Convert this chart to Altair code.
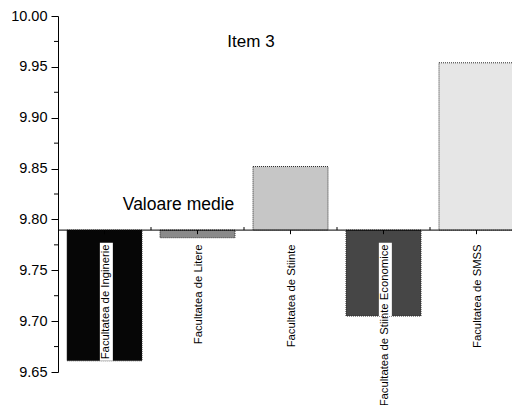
import altair as alt
import pandas as pd

faculties = [
    "Facultatea de Inginerie",
    "Facultatea de Litere",
    "Facultatea de Stiinte",
    "Facultatea de Stiinte Economice",
    "Facultatea  de SMSS",
]
values = [9.661, 9.782, 9.852, 9.705, 9.954]
mean_value = 9.7895
bar_colors = ["#060606", "#8a8a8a", "#c6c6c6", "#464646", "#e6e6e6"]
label_box = [True, False, False, True, False]
y_major = [9.65, 9.70, 9.75, 9.80, 9.85, 9.90, 9.95, 10.00]
y_minor = [9.675, 9.725, 9.775, 9.825, 9.875, 9.925, 9.975]
title_text = ["Item 3"]
mean_text = ["Valoare medie"]

df = pd.DataFrame({"idx": list(range(len(faculties))), "faculty": faculties,
                   "value": values, "box": label_box})

FONT = "Liberation Sans"
xscale = alt.Scale(domain=[-0.5, 4.3817], nice=False, zero=False, padding=0)
yscale = alt.Scale(domain=[9.65, 10.0], nice=False, zero=False, padding=0)

yaxis = alt.Axis(values=y_major, format=".2f", labelFontSize=14.5, labelFont=FONT,
                 labelColor="black", tickSize=7, tickColor="black", domainColor="black",
                 grid=False, title=None, labelPadding=4, tickWidth=1, domainWidth=1)

base = alt.Chart(df).transform_calculate(
    mean=f"{mean_value}",
    tick_lo=f"{mean_value} - 0.004",
    tick_hi=f"{mean_value} + 0.003",
    label_top="9.7755",
    box_top="9.777",
    xb="datum.idx + 0.02",
    b="datum.idx + 0.5",
)

bars = base.mark_bar(size=75, stroke="#2a2a2a", strokeWidth=1,
                     strokeDash=[1, 1]).encode(
    x=alt.X("idx:Q", scale=xscale, axis=None),
    y=alt.Y("value:Q", scale=yscale, axis=yaxis),
    y2=alt.Y2("mean:Q"),
    color=alt.Color("faculty:N", scale=alt.Scale(domain=faculties, range=bar_colors),
                    legend=None),
)

boxes = base.transform_filter("datum.box").mark_bar(size=13, color="white").encode(
    x=alt.X("xb:Q", scale=xscale),
    y=alt.Y("box_top:Q", scale=yscale),
    y2=alt.Y2("value:Q"),
)

labels = base.mark_text(angle=270, align="right", baseline="middle",
                        fontSize=11.3, font=FONT, dy=1.5).encode(
    x=alt.X("idx:Q", scale=xscale),
    y=alt.Y("label_top:Q", scale=yscale),
    text="faculty:N",
    color=alt.value("#000000"),
)

base_rule = alt.Chart(pd.DataFrame({"m": [mean_value]})).mark_rule(
    color="black", strokeWidth=1).encode(y=alt.Y("m:Q", scale=yscale))

major_ticks = base.mark_rule(color="black").encode(
    x=alt.X("idx:Q", scale=xscale),
    y=alt.Y("mean:Q", scale=yscale),
    y2=alt.Y2("tick_lo:Q"),
)

minor_ticks_x = base.transform_filter("datum.idx < 4").mark_rule(color="black").encode(
    x=alt.X("b:Q", scale=xscale),
    y=alt.Y("mean:Q", scale=yscale),
    y2=alt.Y2("tick_hi:Q"),
)

minor_ticks_y = alt.Chart(pd.DataFrame({"v": y_minor})).mark_rule(color="black").encode(
    y=alt.Y("v:Q", scale=yscale),
    x=alt.value(-4),
    x2=alt.value(0),
)

title = alt.Chart(pd.DataFrame({"t": title_text})).transform_calculate(
    px="1.575", py="9.9744").mark_text(
    fontSize=17, font=FONT, color="black").encode(
    x=alt.X("px:Q", scale=xscale), y=alt.Y("py:Q", scale=yscale), text="t:N")

mean_label = alt.Chart(pd.DataFrame({"t": mean_text})).transform_calculate(
    px="0.796", py="9.8142").mark_text(
    fontSize=17.5, font=FONT, color="black").encode(
    x=alt.X("px:Q", scale=xscale), y=alt.Y("py:Q", scale=yscale), text="t:N")

chart = alt.layer(
    bars, boxes, labels, base_rule, major_ticks, minor_ticks_x, minor_ticks_y,
    title, mean_label
).properties(
    width=454, height=356,
    autosize=alt.AutoSizeParams(type="none"),
    padding={"left": 50, "top": 8, "right": 0, "bottom": 33},
    background="white",
).configure_view(stroke=None)

chart.save("out.html", embed_options={"renderer": "svg", "actions": False})
